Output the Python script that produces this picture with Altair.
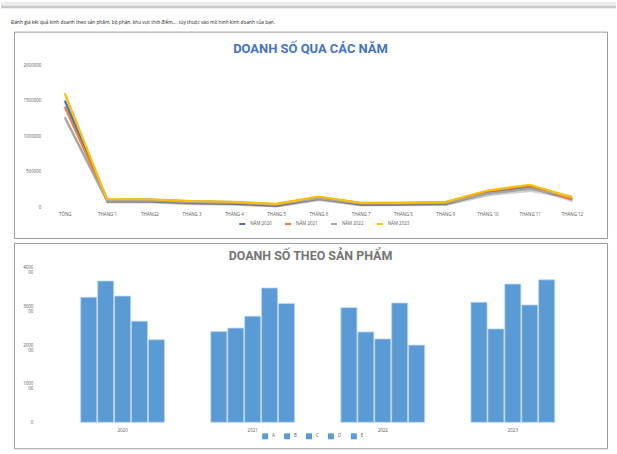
import altair as alt
import pandas as pd

# ---- monthly revenue by year (line chart) ----
months = ["TỔNG", "THÁNG 1", "THÁNG2", "THÁNG 3", "THÁNG 4", "THÁNG 5", "THÁNG 6",
          "THÁNG 7", "THÁNG 8", "THÁNG 9", "THÁNG 10", "THÁNG 11", "THÁNG 12"]
series_names = ["NĂM 2020", "NĂM 2021", "NĂM 2022", "NĂM 2023"]
sales_2020 = [1505000, 100000, 105000, 80000, 70000, 40000, 140000, 58000, 58000, 68000, 215000, 300000, 130000]
sales_2021 = [1420000, 105000, 100000, 75000, 65000, 38000, 135000, 55000, 58000, 62000, 225000, 305000, 108000]
sales_2022 = [1270000, 90000, 92000, 68000, 60000, 33000, 122000, 50000, 52000, 55000, 190000, 255000, 150000]
sales_2023 = [1605000, 110000, 110000, 85000, 75000, 45000, 150000, 60000, 62000, 72000, 235000, 315000, 140000]
line_colors = ["#4472C4", "#ED7D31", "#A5A5A5", "#FFC000"]

# ---- revenue by product (grouped bars) ----
years = ["2020", "2021", "2022", "2023"]
products = ["A", "B", "C", "D", "E"]
products_2020 = [324000, 366000, 327000, 262000, 214000]
products_2021 = [235000, 244000, 275000, 348000, 308000]
products_2022 = [297000, 234000, 216000, 309000, 200000]
products_2023 = [311000, 242000, 358000, 304000, 369000]
bar_color = "#5B9BD5"

intro = ("Đánh giá kết quả kinh doanh theo sản phẩm, bộ phận, khu vực thời điểm,... "
         "tùy thuộc vào mô hình kinh doanh của bạn.")

line_rows = []
for name, vals in zip(series_names, [sales_2020, sales_2021, sales_2022, sales_2023]):
    for m, v in zip(months, vals):
        line_rows.append({"month": m, "series": name, "value": v})
line_df = pd.DataFrame(line_rows)

bar_rows = []
for yr, vals in zip(years, [products_2020, products_2021, products_2022, products_2023]):
    for p, v in zip(products, vals):
        bar_rows.append({"year": yr, "product": p, "sales": v})
bar_df = pd.DataFrame(bar_rows)

W, H = 595, 207
LABEL_FONT = "Open Sans"
TITLE_FONT = "Roboto"
one_row = pd.DataFrame({"k": [0]})

# ---------- top panel ----------
strip_light = alt.Chart(one_row).mark_rect(color="#ececec").encode(
    x=alt.value(-13), x2=alt.value(604), y=alt.value(-30), y2=alt.value(-26))
strip_dark = alt.Chart(one_row).mark_rect(color="#c8c8c8").encode(
    x=alt.value(-13), x2=alt.value(604), y=alt.value(-26), y2=alt.value(-23.5))
intro_text = alt.Chart(one_row).mark_text(
    align="left", baseline="middle", fontSize=4.8, font=LABEL_FONT, color="#222222"
).encode(x=alt.value(-3), y=alt.value(-9), text=alt.value(intro))

x_top = alt.X("month:N", sort=months,
              scale=alt.Scale(type="point", range=[29.8, 581], padding=0.5),
              axis=alt.Axis(title=None, offset=-31, labelAngle=0, labelFontSize=4.5,
                            labelPadding=4, ticks=False, domain=False, grid=False))
y_top = alt.Y("value:Q",
              scale=alt.Scale(domain=[0, 2000000], range=[176, 34], nice=False),
              axis=alt.Axis(title=None, values=[0, 500000, 1000000, 1500000, 2000000],
                            format="d", offset=-30, labelPadding=3, labelFontSize=4.5,
                            ticks=False, domain=False, grid=False))

shadow = alt.Chart(line_df).mark_line(
    color="#000000", opacity=0.18, strokeWidth=2.6, xOffset=0.6, yOffset=1.6
).encode(x=x_top, y=y_top, detail="series:N")

lines = alt.Chart(line_df).mark_line(strokeWidth=2.1).encode(
    x=x_top, y=y_top,
    color=alt.Color("series:N",
                    scale=alt.Scale(domain=series_names, range=line_colors),
                    legend=alt.Legend(title=None, orient="none", legendX=225, legendY=189,
                                      direction="horizontal", symbolType="stroke",
                                      symbolSize=36, symbolStrokeWidth=2,
                                      labelFontSize=4.5, labelOffset=4,
                                      columnPadding=9, padding=0)))

top = alt.layer(strip_light, strip_dark, intro_text, shadow, lines).properties(
    width=W, height=H,
    title=alt.TitleParams("DOANH SỐ QUA CÁC NĂM", anchor="middle", frame="group",
                          offset=-64, baseline="alphabetic", font=TITLE_FONT,
                          fontSize=13, fontWeight="bold", color="#4472C4"))

# ---------- bottom panel ----------
bars = alt.Chart(bar_df).mark_bar(stroke="#BDD7EE", strokeWidth=0.8).encode(
    x=alt.X("year:N", sort=years,
            scale=alt.Scale(range=[43.75, 565.75], paddingInner=0.356, paddingOuter=0.178),
            axis=alt.Axis(title=None, offset=-25, labelAngle=0, labelFontSize=4.5,
                          labelPadding=4, ticks=False, domain=False, grid=False)),
    xOffset=alt.XOffset("product:N", sort=products, scale=alt.Scale(paddingInner=0.05)),
    y=alt.Y("sales:Q",
            scale=alt.Scale(domain=[0, 400000], range=[180, 25], nice=False),
            axis=alt.Axis(title=None, values=[0, 100000, 200000, 300000, 400000],
                          format="d", offset=-22, labelPadding=3, labelFontSize=4.5,
                          labelLineHeight=5,
                          labelExpr="datum.value == 0 ? '0' : "
                                    "[substring(datum.label, 0, 4), substring(datum.label, 4)]",
                          ticks=False, domain=False, grid=False)),
    color=alt.Color("product:N",
                    scale=alt.Scale(domain=products, range=[bar_color] * 5),
                    legend=alt.Legend(title=None, orient="none", legendX=249, legendY=191,
                                      direction="horizontal", symbolType="square",
                                      symbolSize=36, symbolStrokeWidth=0,
                                      labelFontSize=4.5, labelOffset=4,
                                      columnPadding=9, padding=0)))

bottom = bars.properties(
    width=W, height=206,
    title=alt.TitleParams("DOANH SỐ THEO SẢN PHẨM", anchor="middle", frame="group",
                          offset=-30, baseline="alphabetic", font=TITLE_FONT,
                          fontSize=12.5, fontWeight="bold", color="#757575"))

chart = alt.vconcat(top, bottom, spacing=3).resolve_scale(
    color="independent", x="independent", y="independent", xOffset="independent"
).resolve_legend(color="independent").properties(
    padding={"left": 0, "top": 0, "right": 0, "bottom": 0}
).configure(background="white").configure_view(
    stroke="#9a9a9a", strokeWidth=1
).configure_axis(
    labelFont=LABEL_FONT, labelColor="#595959"
).configure_legend(
    labelFont=LABEL_FONT, labelColor="#595959"
)

chart.save("out.html", embed_options={"renderer": "svg", "actions": False})
